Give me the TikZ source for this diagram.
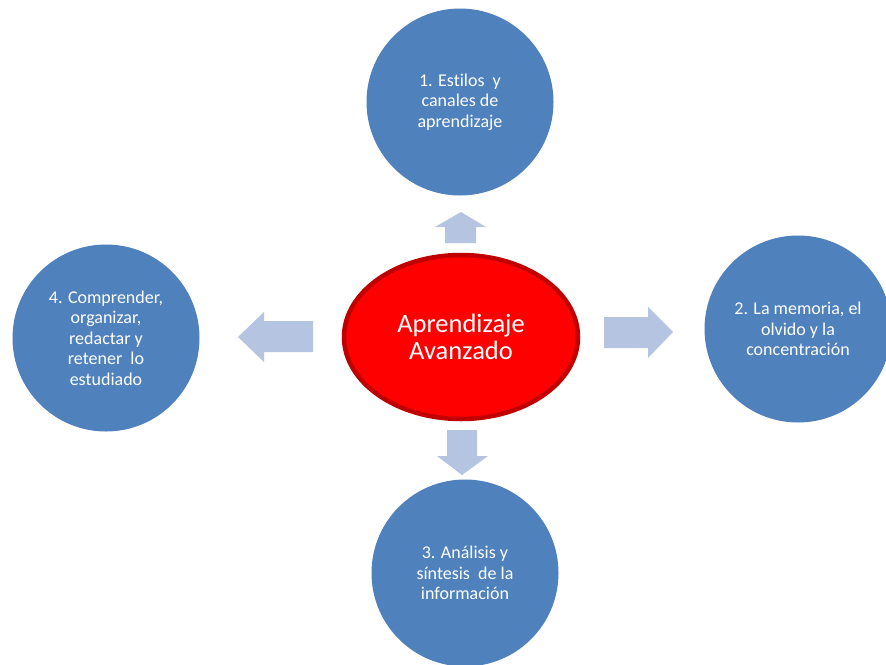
\documentclass[tikz,border=0pt]{standalone}
\usepackage{fontspec}
\setmainfont{Carlito}[Ligatures={NoCommon}]
\usetikzlibrary{shapes.geometric}
\begin{document}
\begin{tikzpicture}[x=1pt,y=-1pt,
  topic/.style={circle, fill=topicblue, minimum size=187pt, inner sep=0pt, align=center, text=white, font=\fontsize{18}{20.5}\selectfont},
  hub/.style={ellipse, fill=hubred, draw=hubdark, line width=4.5pt, minimum width=234pt, minimum height=164pt, inner sep=0pt, align=center, text=white, font=\fontsize{26.5}{27.5}\selectfont},
  blockarrow/.style={fill=arrowblue, draw=none}]
\definecolor{topicblue}{HTML}{4F81BD}
\definecolor{hubred}{HTML}{FF0000}
\definecolor{hubdark}{HTML}{C00000}
\definecolor{arrowblue}{HTML}{B4C4E1}
\useasboundingbox (0,0) rectangle (886,664);
\clip (0,0) rectangle (886,664);
\fill[white] (0,0) rectangle (886,664);
\node[topic] (t1) at (460,102) {1. Estilos\ \ y\\canales de\\aprendizaje};
\node[topic] (t2) at (798,329) {2. La memoria, el\\olvido y la\\concentración};
\node[topic] (t3) at (465,573) {3. Análisis y\\síntesis\ \ de la\\información};
\node[topic] (t4) at (106,338) {4. Comprender,\\organizar,\\redactar y\\retener\ \ lo\\estudiado};
\node[hub] (hub) at (461,337) {Aprendizaje\\Avanzado};
% block arrows
\fill[blockarrow] (461,212) -- (486,227) -- (476,227) -- (476,243) -- (445,243) -- (445,227) -- (435,227) -- cycle;
\fill[blockarrow] (673,332) -- (648,358) -- (648,348) -- (604,348) -- (604,317) -- (648,317) -- (648,307) -- cycle;
\fill[blockarrow] (462,475) -- (488,456) -- (477,456) -- (477,430) -- (447,430) -- (447,456) -- (437,456) -- cycle;
\fill[blockarrow] (238,337) -- (264,312) -- (264,321) -- (313,321) -- (313,352) -- (264,352) -- (264,362) -- cycle;
\end{tikzpicture}
\end{document}
